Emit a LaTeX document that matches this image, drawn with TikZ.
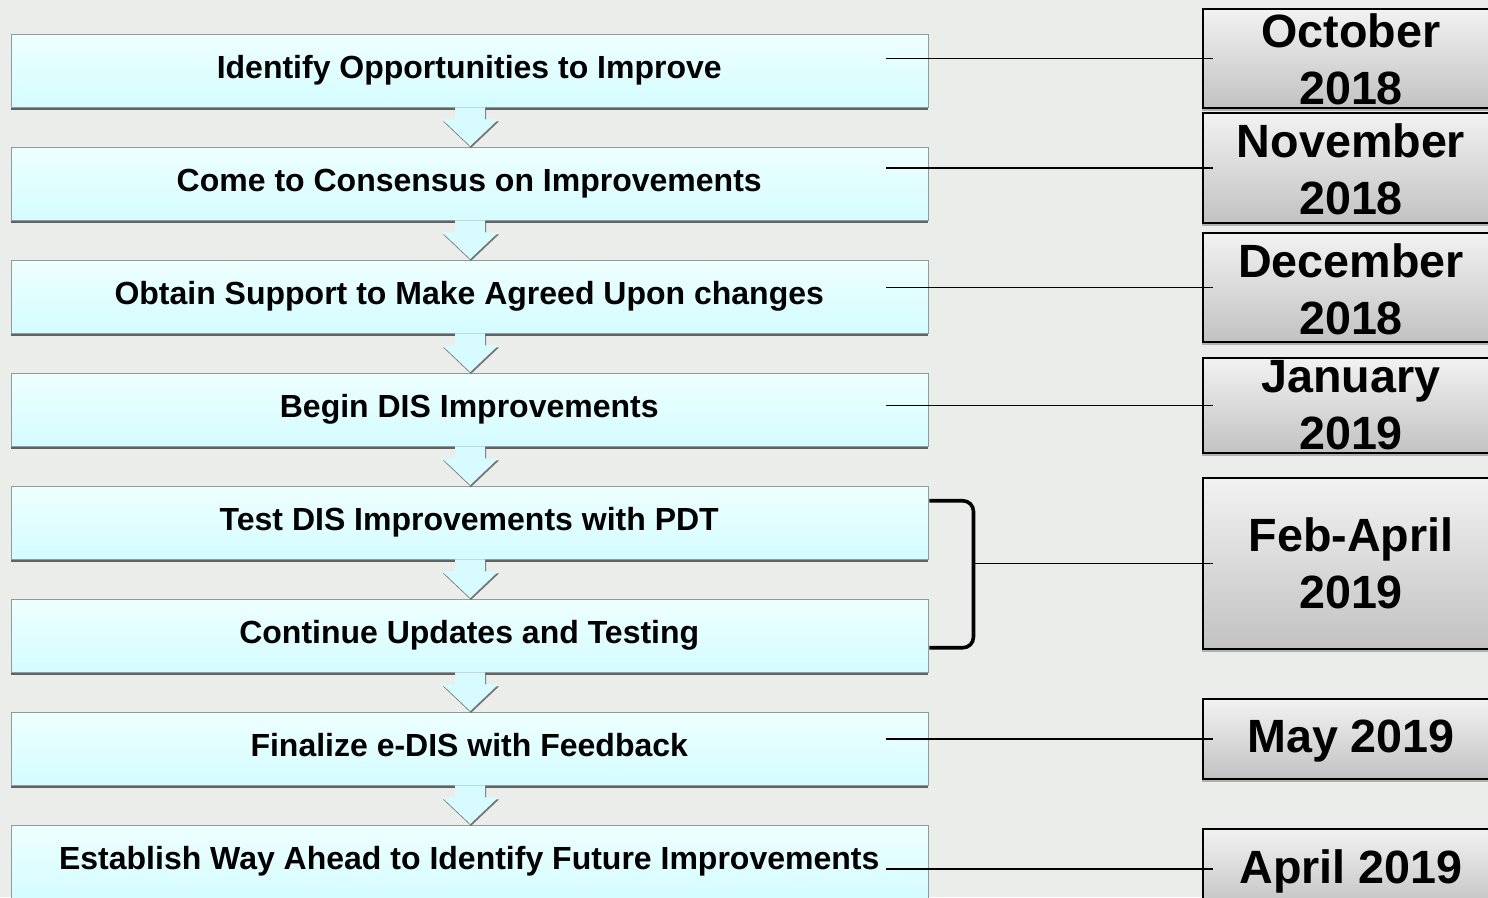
\documentclass[tikz,border=0pt]{standalone}
\usepackage{fontspec}
\setmainfont{Liberation Sans}
\usetikzlibrary{shadows,calc}
\definecolor{bg}{HTML}{EBEDEA}
\definecolor{boxtop}{HTML}{EEFFFF}
\definecolor{boxbot}{HTML}{D4FCFF}
\definecolor{boxline}{HTML}{8E9C9C}
\definecolor{datetop}{HTML}{F2F2F2}
\definecolor{datebot}{HTML}{C2C2C2}
\definecolor{arrowfill}{HTML}{D8FBFF}
\begin{document}
\begin{tikzpicture}[x=0.75pt,y=-0.75pt,
  stepbox/.style={draw=boxline, line width=1.1pt, top color=boxtop, bottom color=boxbot,
    minimum width=687.75pt, minimum height=54.75pt, inner sep=0pt, anchor=north west,
    drop shadow={shadow xshift=-0.9pt, shadow yshift=-1.6pt, opacity=0.8, fill=black!75}},
  steptext/.style={anchor=base, inner sep=0pt, font=\fontsize{24pt}{28pt}\selectfont\bfseries},
  datebox/.style={draw=black, line width=1.5pt, top color=datetop, bottom color=datebot,
    minimum width=222pt, inner sep=0pt, anchor=north west,
    drop shadow={shadow xshift=-0.8pt, shadow yshift=-2pt, opacity=0.55}},
  datetext/.style={inner sep=0pt, align=center, font=\fontsize{35pt}{42.75pt}\selectfont\bfseries},
  downarrow/.style={fill=arrowfill, drop shadow={shadow xshift=0.6pt, shadow yshift=-1.4pt, opacity=0.75, fill=black!70}},
  conn/.style={draw=black, line width=1.4pt},
  brk/.style={draw=black, line width=2.7pt, rounded corners=8pt}]
\useasboundingbox (0,0) rectangle (1488,897);
\clip (0,0) rectangle (1488,897);
\fill[bg] (0,0) rectangle (1488,897);

% step boxes
\node[stepbox] (b1) at (11,34) {};
\node[stepbox] (b2) at (11,147) {};
\node[stepbox] (b3) at (11,260) {};
\node[stepbox] (b4) at (11,373) {};
\node[stepbox] (b5) at (11,486) {};
\node[stepbox] (b6) at (11,599) {};
\node[stepbox] (b7) at (11,712) {};
\node[stepbox] (b8) at (11,825) {};

% arrows between boxes
\foreach \a/\b in {b1/b2,b2/b3,b3/b4,b4/b5,b5/b6,b6/b7,b7/b8}{
  \path[downarrow] ($(\a.south)+(-15,-1)$) -- ($(\a.south)+(15,-1)$) -- ($(\a.south)+(15,11)$)
    -- ($(\a.south)+(28,11)$) -- ($(\b.north)+(0,-1)$) -- ($(\a.south)+(-28,11)$)
    -- ($(\a.south)+(-15,11)$) -- cycle;
}

% step texts
\node[steptext] (t1) at ($(b1.center)+(-1,7.5)$) {Identify Opportunities to Improve};
\node[steptext] (t2) at ($(b2.center)+(-1,7.5)$) {Come to Consensus on Improvements};
\node[steptext] (t3) at ($(b3.center)+(-1,7.5)$) {Obtain Support to Make Agreed Upon changes};
\node[steptext] (t4) at ($(b4.center)+(-1,7.5)$) {Begin DIS Improvements};
\node[steptext] (t5) at ($(b5.center)+(-1,7.5)$) {Test DIS Improvements with PDT};
\node[steptext] (t6) at ($(b6.center)+(-1,7.5)$) {Continue Updates and Testing};
\node[steptext] (t7) at ($(b7.center)+(-1,7.5)$) {Finalize e-DIS with Feedback};
\node[steptext] (t8) at ($(b8.center)+(-1,7.5)$) {Establish Way Ahead to Identify Future Improvements};

% date boxes
\node[datebox, minimum height=74.25pt] (d1) at (1202,8) {};
\node[datebox, minimum height=82.5pt] (d2) at (1202,112) {};
\node[datebox, minimum height=81.75pt] (d3) at (1202,232) {};
\node[datebox, minimum height=71.25pt] (d4) at (1202,357) {};
\node[datebox, minimum height=128.25pt] (d5) at (1202,477) {};
\node[datebox, minimum height=60pt] (d6) at (1202,698) {};
\node[datebox, minimum height=60pt] (d7) at (1202,828) {};

\node[datetext] (e1) at ($(d1.center)+(0,1)$) {October\\2018};
\node[datetext] (e2) at ($(d2.center)+(0,1)$) {November\\2018};
\node[datetext] (e3) at ($(d3.center)+(0,2)$) {December\\2018};
\node[datetext] (e4) at ($(d4.center)+(0,0)$) {January\\2019};
\node[datetext] (e5) at ($(d5.center)+(0,0)$) {Feb-April\\2019};
\node[datetext] (e6) at ($(d6.center)+(0,2)$) {May 2019};
\node[datetext] (e7) at ($(d7.center)+(0,2)$) {April 2019};

% connectors
\coordinate (s1) at ($(b1.east |- d1.west)+(-43,0)$);
\coordinate (s2) at ($(b2.east |- d2.west)+(-43,0)$);
\coordinate (s3) at ($(b3.east |- d3.west)+(-43,0)$);
\coordinate (s4) at ($(b4.east |- d4.west)+(-43,0)$);
\coordinate (s6) at ($(b7.east |- d6.west)+(-43,0)$);
\coordinate (s7) at ($(b8.east |- d7.west)+(-43,0)$);
\draw[conn] (s1) -- ($(d1.west)+(11,0)$);
\draw[conn] (s2) -- ($(d2.west)+(11,0)$);
\draw[conn] (s3) -- ($(d3.west)+(11,0)$);
\draw[conn] (s4) -- ($(d4.west)+(11,0)$);
\draw[conn] (s6) -- ($(d6.west)+(11,0)$);
\draw[conn] (s7) -- ($(d7.west)+(11,0)$);

% bracket
\coordinate (k1) at ($(b5.east)+(0,-22.5)$);
\coordinate (k2) at ($(b6.east)+(0,11.5)$);
\coordinate (kr) at ($(k1)+(44,0)$);
\draw[brk] (k1) -- (kr) -- ($(k2)+(44,0)$) -- (k2);
\draw[conn] (kr |- d5.west) -- ($(d5.west)+(11,0)$);
\end{tikzpicture}
\end{document}
